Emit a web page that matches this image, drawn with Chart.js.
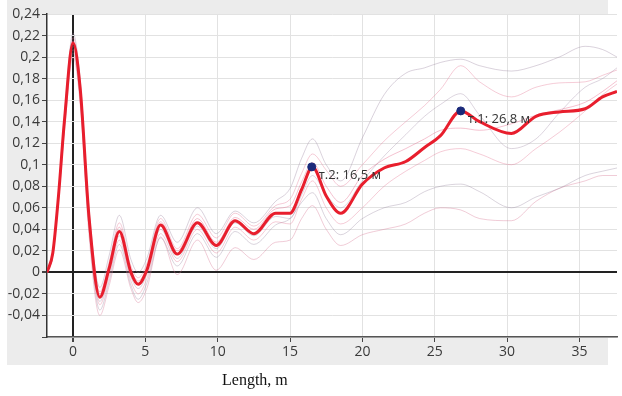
<!DOCTYPE html>
<html>
<head>
<meta charset="utf-8">
<script src="https://cdn.jsdelivr.net/npm/chart.js@4/dist/chart.umd.min.js"></script>
<style>
    body { margin: 0; background: #fff; }
    #wrap { position: relative; width: 622px; height: 396px; }
    #paper { position: absolute; left: 7px; top: 0; width: 601px; height: 365px; background: #ececec; }
    #chart { position: absolute; left: 0; top: 0; }
    #xtitle { position: absolute; left: 222px; top: 371px; font: 16px "Liberation Serif", serif; color: #111; }
</style>
</head>
<body>
<div id="wrap">
    <div id="paper"></div>
    <canvas id="chart" width="622" height="396"></canvas>
    <div id="xtitle">Length, m</div>
</div>
<script>
// distances along the line, m
const xs = [-1.8, -1.4, -1.0, -0.6, 0, 0.5, 1.1, 1.85, 2.5, 3.2, 4.0, 4.5, 5.1, 6.05, 7.2, 8.6, 9.9, 11.2, 12.5, 14.0,
            15.0, 15.8, 16.55, 17.5, 18.5, 20.0, 21.5, 23.0, 24.3, 25.4, 26.8, 28.1, 30.3, 32.0, 33.6, 35.4, 36.6, 37.6];

// averaged trace (red)
const mainTrace = [0, 0.018, 0.072, 0.14, 0.213, 0.17, 0.052, -0.023, 0.004, 0.038, 0.0, -0.011, 0.002, 0.044, 0.017, 0.046, 0.025, 0.048, 0.036, 0.055,
                   0.055, 0.077, 0.098, 0.071, 0.055, 0.082, 0.097, 0.103, 0.116, 0.127, 0.150, 0.140, 0.129, 0.145, 0.149, 0.152, 0.163, 0.168];

// single traces (faint)
const trace1 = [0, 0.02, 0.076, 0.146, 0.222, 0.178, 0.06, -0.014, 0.016, 0.053, 0.012, 0.0, 0.013, 0.053, 0.028, 0.06, 0.036, 0.057, 0.046, 0.066,
                0.078, 0.106, 0.124, 0.1, 0.085, 0.125, 0.165, 0.185, 0.19, 0.195, 0.198, 0.192, 0.187, 0.192, 0.2, 0.21, 0.207, 0.2];
const trace2 = [0, 0.019, 0.074, 0.143, 0.218, 0.175, 0.056, -0.018, 0.01, 0.046, 0.006, -0.005, 0.008, 0.05, 0.022, 0.054, 0.032, 0.055, 0.043, 0.062,
                0.068, 0.092, 0.11, 0.095, 0.08, 0.1, 0.122, 0.14, 0.155, 0.17, 0.192, 0.177, 0.163, 0.172, 0.176, 0.177, 0.183, 0.188];
const trace3 = [0, 0.018, 0.073, 0.141, 0.215, 0.172, 0.054, -0.02, 0.007, 0.042, 0.003, -0.008, 0.005, 0.047, 0.02, 0.05, 0.028, 0.051, 0.04, 0.059,
                0.062, 0.084, 0.102, 0.08, 0.065, 0.09, 0.105, 0.115, 0.124, 0.132, 0.134, 0.132, 0.138, 0.146, 0.151, 0.158, 0.168, 0.178];
const trace4 = [0, 0.017, 0.071, 0.138, 0.21, 0.166, 0.048, -0.027, 0.0, 0.034, -0.004, -0.015, -0.002, 0.04, 0.013, 0.043, 0.022, 0.046, 0.034, 0.052,
                0.05, 0.072, 0.09, 0.072, 0.06, 0.085, 0.108, 0.128, 0.145, 0.156, 0.166, 0.146, 0.115, 0.124, 0.148, 0.172, 0.18, 0.19];
const trace5 = [0, 0.017, 0.07, 0.136, 0.207, 0.163, 0.045, -0.03, -0.004, 0.03, -0.008, -0.02, -0.006, 0.036, 0.01, 0.04, 0.018, 0.042, 0.03, 0.047,
                0.045, 0.068, 0.085, 0.06, 0.045, 0.06, 0.08, 0.094, 0.104, 0.112, 0.115, 0.11, 0.1, 0.115, 0.13, 0.15, 0.165, 0.175];
const trace6 = [0, 0.016, 0.069, 0.134, 0.204, 0.16, 0.042, -0.035, -0.008, 0.026, -0.012, -0.025, -0.01, 0.032, 0.006, 0.036, 0.014, 0.038, 0.026, 0.044,
                0.05, 0.065, 0.074, 0.05, 0.035, 0.05, 0.06, 0.065, 0.075, 0.08, 0.082, 0.075, 0.06, 0.07, 0.078, 0.09, 0.094, 0.097];
const trace7 = [0, 0.015, 0.067, 0.13, 0.2, 0.155, 0.035, -0.04, -0.012, 0.021, -0.015, -0.028, -0.015, 0.033, -0.002, 0.03, 0.002, 0.023, 0.012, 0.028,
                0.03, 0.05, 0.062, 0.04, 0.025, 0.035, 0.04, 0.045, 0.055, 0.06, 0.058, 0.05, 0.048, 0.066, 0.078, 0.085, 0.09, 0.09];

// marked points
const markX = [16.5, 26.8];
const markY = [0.098, 0.150];
const markLabels = ['т.2: 16,5 м', 'т.1: 26,8 м'];

// ticks
const xTicks = [0, 5, 10, 15, 20, 25, 30, 35];
const xTickLabels = ['0', '5', '10', '15', '20', '25', '30', '35'];
const yTicks = [-0.06, -0.04, -0.02, 0, 0.02, 0.04, 0.06, 0.08, 0.1, 0.12, 0.14, 0.16, 0.18, 0.2, 0.22, 0.24];
const yTickLabels = ['', '-0,04', '-0,02', '0', '0,02', '0,04', '0,06', '0,08', '0,1', '0,12', '0,14', '0,16', '0,18', '0,2', '0,22', '0,24'];

const toPoints = arr => arr.map((v, i) => ({ x: xs[i], y: v }));

const faint = [trace1, trace2, trace3, trace4, trace5, trace6, trace7];
const faintColors = [
    'rgba(150,125,155,0.35)',
    'rgba(225,110,140,0.35)',
    'rgba(230,120,150,0.45)',
    'rgba(150,125,155,0.32)',
    'rgba(225,110,140,0.35)',
    'rgba(140,120,150,0.32)',
    'rgba(215,120,150,0.38)'
];

const datasets = faint.map((t, i) => ({
    data: toPoints(t),
    borderColor: faintColors[i],
    borderWidth: 1,
    pointRadius: 0,
    cubicInterpolationMode: 'monotone',
    order: 3
}));
datasets.push({
    data: toPoints(mainTrace),
    borderColor: 'rgb(232,30,45)',
    borderWidth: 3,
    pointRadius: 0,
    cubicInterpolationMode: 'monotone',
    order: 2
});
datasets.push({
    data: markX.map((x, i) => ({ x: x, y: markY[i] })),
    showLine: false,
    pointRadius: 4,
    pointBackgroundColor: '#1b2a7a',
    pointBorderColor: '#1b2a7a',
    order: 1
});

// white plot area + labels next to marked points
const plotDecor = {
    id: 'plotDecor',
    beforeDraw: chart => {
        const a = chart.chartArea;
        const ctx = chart.ctx;
        ctx.save();
        ctx.fillStyle = '#fff';
        ctx.fillRect(a.left, a.top, a.right - a.left, a.bottom - a.top);
        ctx.restore();
    },
    afterDatasetsDraw: chart => {
        const ctx = chart.ctx;
        const sx = chart.scales.x, sy = chart.scales.y;
        ctx.save();
        ctx.font = '13px "Open Sans", sans-serif';
        ctx.fillStyle = '#333';
        ctx.textBaseline = 'middle';
        markX.forEach((x, i) => {
            ctx.fillText(markLabels[i], sx.getPixelForValue(x) + 7, sy.getPixelForValue(markY[i]) + 8);
        });
        ctx.restore();
    }
};

new Chart(document.getElementById('chart'), {
    type: 'line',
    data: { datasets: datasets },
    plugins: [plotDecor],
    options: {
        responsive: false,
        animation: false,
        layout: { padding: { top: 14, right: 1, left: 0, bottom: 0 } },
        plugins: { legend: { display: false }, tooltip: { enabled: false } },
        scales: {
            x: {
                type: 'linear',
                min: -1.8,
                max: 37.6,
                afterBuildTicks: s => { s.ticks = xTicks.map(v => ({ value: v })); },
                afterFit: s => { s.height = 59; },
                ticks: {
                    callback: (v, i) => xTickLabels[i],
                    font: { family: 'Open Sans', size: 14 },
                    color: '#3a3a3a',
                    padding: 2,
                    maxRotation: 0
                },
                grid: {
                    color: c => c.tick && c.tick.value === 0 ? '#222' : '#e2e2e2',
                    lineWidth: c => c.tick && c.tick.value === 0 ? 2 : 1,
                    tickColor: '#444',
                    tickLength: 5
                },
                border: { color: '#555', width: 1.5 }
            },
            y: {
                min: -0.06,
                max: 0.24,
                afterBuildTicks: s => { s.ticks = yTicks.map(v => ({ value: v })); },
                afterFit: s => { s.width = 47; },
                ticks: {
                    callback: (v, i) => yTickLabels[i],
                    font: { family: 'Open Sans', size: 14 },
                    color: '#3a3a3a',
                    padding: 2
                },
                grid: {
                    color: c => c.tick && Math.abs(c.tick.value) < 1e-9 ? '#222' : '#e2e2e2',
                    lineWidth: c => c.tick && Math.abs(c.tick.value) < 1e-9 ? 2 : 1,
                    tickColor: '#444',
                    tickLength: 5
                },
                border: { color: '#333', width: 1.5 }
            }
        }
    }
});
</script>
</body>
</html>
